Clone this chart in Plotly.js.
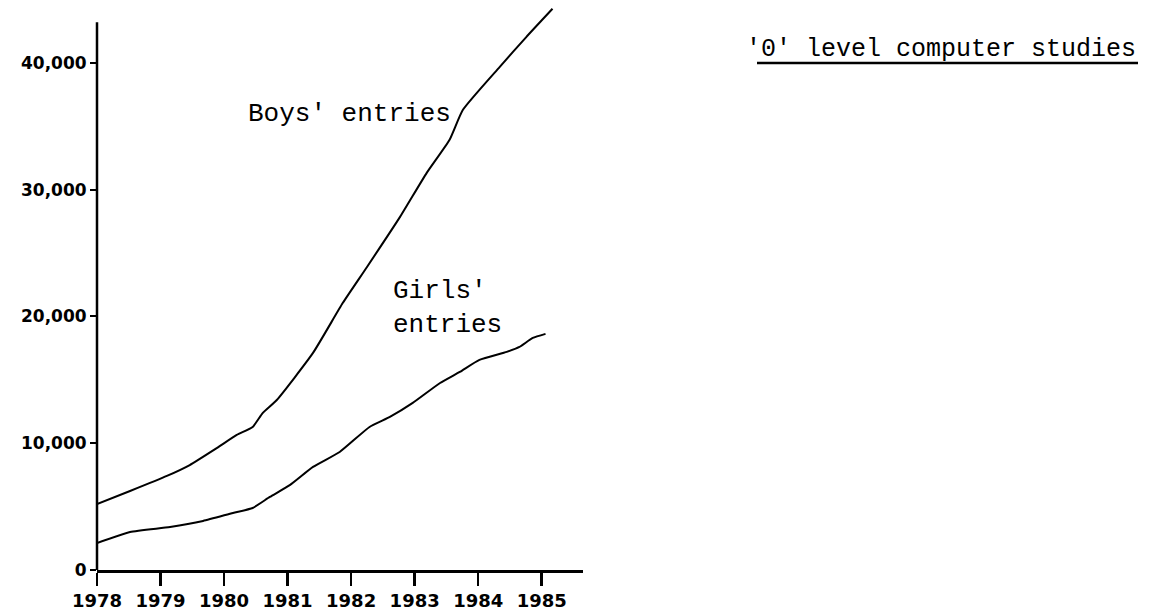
<!DOCTYPE html>
<html>
<head>
<meta charset="utf-8">
<script src="https://cdn.plot.ly/plotly-3.0.1.min.js"></script>
<style>html,body{margin:0;padding:0;background:#fff;}#chart{width:1159px;height:611px;}</style>
</head>
<body>
<div id="chart"></div>
<script>
// Data (year as fractional position along the axis)
var boysYears   = [1978.0, 1978.52, 1979.10, 1979.46, 1979.89, 1980.20, 1980.45, 1980.61, 1980.83, 1981.40, 1981.87, 1982.25, 1982.77, 1983.19, 1983.55, 1983.76, 1984.34, 1984.76, 1985.17];
var boysEntries = [5200, 6230, 7420, 8280, 9630, 10650, 11280, 12390, 13410, 17120, 21070, 23900, 27850, 31320, 33930, 36290, 39680, 42050, 44260];

var girlsYears   = [1978.0, 1978.52, 1979.15, 1979.67, 1980.14, 1980.45, 1980.72, 1981.04, 1981.40, 1981.82, 1982.29, 1982.61, 1982.97, 1983.40, 1983.71, 1984.02, 1984.45, 1984.65, 1984.86, 1985.06];
var girlsEntries = [2130, 3000, 3390, 3870, 4500, 4890, 5760, 6710, 8130, 9310, 11280, 12070, 13180, 14750, 15620, 16570, 17200, 17590, 18300, 18620];

var xTickVals  = [1978, 1979, 1980, 1981, 1982, 1983, 1984, 1985];
var xTickText  = ['1978', '1979', '1980', '1981', '1982', '1983', '1984', '1985'];
var yTickVals  = [0, 10000, 20000, 30000, 40000];
var yTickText  = ['0', '10,000', '20,000', '30,000', '40,000'];

var titleText = "'0' level computer studies";
var boysLabel = "Boys' entries";
var girlsLabel = "Girls'<br>entries";

var typeFont = {family: 'Liberation Mono, DejaVu Sans Mono, monospace', size: 26, color: '#000'};
var titleFont = {family: 'Liberation Mono, DejaVu Sans Mono, monospace', size: 25, color: '#000'};
var yHandFont = {family: 'DejaVu Sans, sans-serif', size: 17, color: '#000', weight: 'bold'};
var xHandFont = {family: 'DejaVu Sans, sans-serif', size: 18, color: '#000', weight: 'bold'};

var traces = [
  {x: boysYears, y: boysEntries, type: 'scatter', mode: 'lines', name: 'Boys',
   line: {color: '#000', width: 2, shape: 'spline', smoothing: 0.5}, hoverinfo: 'x+y'},
  {x: girlsYears, y: girlsEntries, type: 'scatter', mode: 'lines', name: 'Girls',
   line: {color: '#000', width: 2, shape: 'spline', smoothing: 0.5}, hoverinfo: 'x+y'}
];

var layout = {
  width: 1159, height: 611,
  margin: {l: 97, r: 576, t: 7, b: 41, pad: 0},
  paper_bgcolor: '#fff', plot_bgcolor: '#fff',
  showlegend: false,
  title: {text: titleText, font: titleFont, xref: 'container', x: 746/1159, xanchor: 'left',
          yref: 'container', y: 1 - 47/611, yanchor: 'middle'},
  xaxis: {range: [1978, 1985.65], tickmode: 'array', tickvals: xTickVals, ticktext: xTickText,
          showgrid: false, zeroline: false, showline: true, linecolor: '#000', linewidth: 2.5,
          ticks: 'outside', ticklen: 13, tickwidth: 2.5, tickcolor: '#000', tickfont: xHandFont},
  yaxis: {range: [0, 44400], tickmode: 'array', tickvals: yTickVals, ticktext: yTickText,
          showgrid: false, zeroline: false, showline: false,
          ticks: 'outside', ticklen: 6, tickwidth: 2, tickcolor: '#000', tickfont: yHandFont},
  shapes: [
    {type: 'line', xref: 'paper', yref: 'y', x0: 0, x1: 0, y0: 0, y1: 43200,
     line: {color: '#000', width: 2.5}},
    {type: 'line', xref: 'paper', yref: 'paper', x0: (757-97)/486, x1: (1138-97)/486,
     y0: (570-63)/563, y1: (570-63)/563, line: {color: '#000', width: 2.5}}
  ],
  annotations: [
    {text: boysLabel, xref: 'x', yref: 'y', x: 1980.34, y: 36000, xanchor: 'left', yanchor: 'middle',
     showarrow: false, font: typeFont, align: 'left'},
    {text: girlsLabel, xref: 'x', yref: 'y', x: 1982.62, y: 20700, xanchor: 'left', yanchor: 'middle',
     showarrow: false, font: typeFont, align: 'left'}
  ]
};

Plotly.newPlot('chart', traces, layout, {displayModeBar: false, staticPlot: true});
</script>
</body>
</html>
